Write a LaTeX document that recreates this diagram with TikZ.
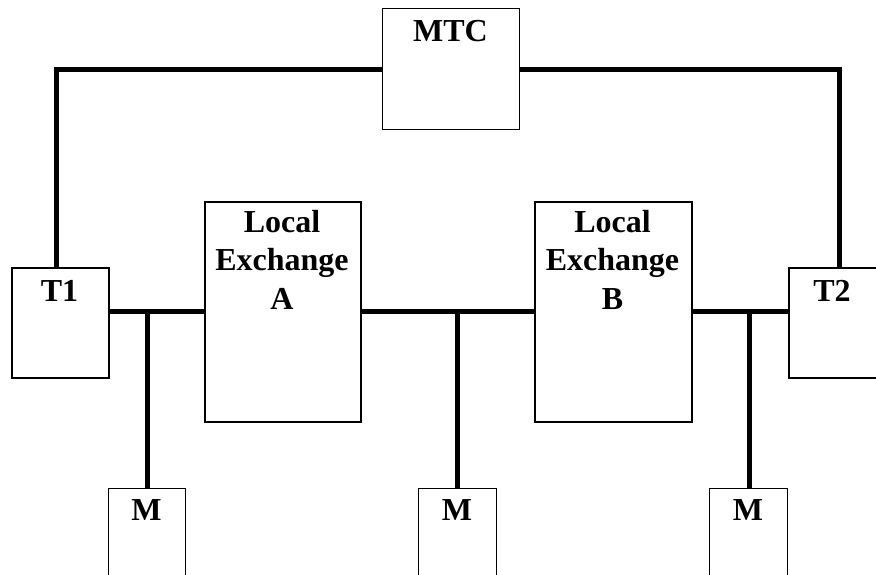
\documentclass[tikz,border=0pt]{standalone}
\usepackage{fontspec}
\setmainfont{Liberation Serif}
\begin{document}
\begin{tikzpicture}[x=1pt,y=-1pt,
  boxthin/.style={draw,line width=1.2pt,rectangle,inner sep=0pt,anchor=north west},
  boxthick/.style={draw,line width=2.2pt,rectangle,inner sep=0pt,anchor=north west},
  lbl/.style={font=\fontsize{32}{38}\selectfont\bfseries,anchor=base,inner sep=0pt},
  conn/.style={line width=5pt}]
\useasboundingbox (0,0) rectangle (876,575);
\clip (0,0) rectangle (876,575);
\fill[white] (0,0) rectangle (876,575);
% boxes
\node[boxthin,minimum width=137pt,minimum height=121pt] (MTC) at (382,8) {};
\node[boxthick,minimum width=97pt,minimum height=110pt] (T1) at (11,267) {};
\node[boxthick,minimum width=100pt,minimum height=110pt] (T2) at (788,267) {};
\node[boxthick,minimum width=156pt,minimum height=220pt] (LEA) at (204,201) {};
\node[boxthick,minimum width=157pt,minimum height=220pt] (LEB) at (534,201) {};
\node[boxthin,minimum width=77pt,minimum height=100pt] (M1) at (108,488) {};
\node[boxthin,minimum width=78pt,minimum height=100pt] (M2) at (418,488) {};
\node[boxthin,minimum width=78pt,minimum height=100pt] (M3) at (709,488) {};
% labels
\node[lbl] (tMTC) at (450.5,42) {MTC};
\node[lbl] (tT1) at (59.5,301) {T1};
\node[lbl] (tT2) at (832,301) {T2};
\node[lbl] (tA1) at (282,233) {Local};
\node[lbl] (tA2) at (282,270) {Exchange};
\node[lbl] (tA3) at (282,309) {A};
\node[lbl] (tB1) at (612.5,233) {Local};
\node[lbl] (tB2) at (612.5,270) {Exchange};
\node[lbl] (tB3) at (612.5,309) {B};
\node[lbl] (tM1) at (146.5,520) {M};
\node[lbl] (tM2) at (457,520) {M};
\node[lbl] (tM3) at (748,520) {M};
% connector coordinates
\coordinate (topy) at (0,69.5);
\coordinate (lx) at (56,0);
\coordinate (rx) at (839,0);
\coordinate (busy) at (0,311);
\coordinate (m1x) at (147,0);
\coordinate (m2x) at (457,0);
\coordinate (m3x) at (749,0);
% connectors
\draw[conn] (T1.north -| lx) -- (lx |- topy) -- (MTC.west |- topy);
\draw[conn] (T2.north -| rx) -- (rx |- topy) -- (MTC.east |- topy);
\draw[conn] (T1.east |- busy) -- (LEA.west |- busy);
\draw[conn] (LEA.east |- busy) -- (LEB.west |- busy);
\draw[conn] (LEB.east |- busy) -- (T2.west |- busy);
\draw[conn] (M1.north -| m1x) -- (m1x |- busy);
\draw[conn] (M2.north -| m2x) -- (m2x |- busy);
\draw[conn] (M3.north -| m3x) -- (m3x |- busy);
\end{tikzpicture}
\end{document}
